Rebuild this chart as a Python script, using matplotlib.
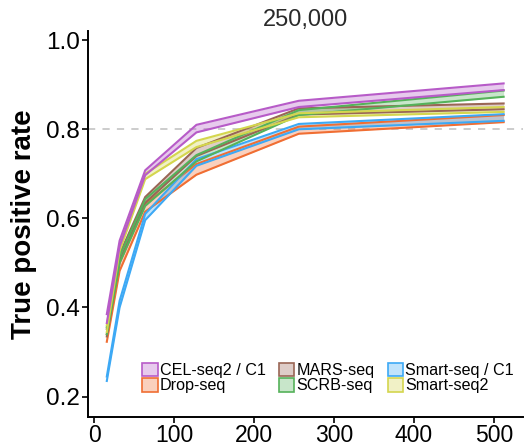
import matplotlib
matplotlib.use("Agg")
import matplotlib.pyplot as plt
from matplotlib.patches import Patch

plt.rcParams['font.family'] = ['Liberation Sans', 'DejaVu Sans']

# sequencing depth (x) and true positive rate ribbons (lower / upper)
depth = [16, 32, 64, 128, 256, 512]

methods = ['CEL-seq2 / C1', 'Drop-seq', 'MARS-seq', 'SCRB-seq', 'Smart-seq / C1', 'Smart-seq2']
colors = ['#B75BC8', '#F06E33', '#9A6655', '#55B25A', '#3DA9F5', '#D4D64E']

cel_lo = [0.365, 0.537, 0.697, 0.793, 0.850, 0.888]
cel_hi = [0.385, 0.550, 0.708, 0.810, 0.864, 0.903]
drop_lo = [0.323, 0.482, 0.615, 0.698, 0.790, 0.816]
drop_hi = [0.340, 0.500, 0.632, 0.722, 0.806, 0.832]
mars_lo = [0.335, 0.505, 0.635, 0.740, 0.833, 0.845]
mars_hi = [0.352, 0.520, 0.648, 0.758, 0.847, 0.858]
scrb_lo = [0.340, 0.500, 0.628, 0.728, 0.832, 0.873]
scrb_hi = [0.356, 0.515, 0.643, 0.742, 0.843, 0.887]
c1_lo = [0.235, 0.400, 0.596, 0.718, 0.800, 0.819]
c1_hi = [0.245, 0.415, 0.610, 0.733, 0.812, 0.834]
ss2_lo = [0.345, 0.527, 0.688, 0.760, 0.827, 0.839]
ss2_hi = [0.360, 0.540, 0.700, 0.774, 0.836, 0.850]

lows = [cel_lo, drop_lo, mars_lo, scrb_lo, c1_lo, ss2_lo]
highs = [cel_hi, drop_hi, mars_hi, scrb_hi, c1_hi, ss2_hi]

fig = plt.figure(figsize=(5.26, 4.47), dpi=100, facecolor='w')
ax = fig.add_axes([0.1673, 0.068, 0.8267, 0.862])

ax.axhline(0.8, color='#C8C8C8', lw=1.3, ls=(0, (4, 4)), zorder=1)

# draw in an order so the top bands sit on top
for i in [1, 4, 2, 3, 5, 0]:
    ax.fill_between(depth, lows[i], highs[i], color=colors[i], alpha=0.32, lw=0, zorder=2)
    ax.plot(depth, lows[i], color=colors[i], lw=1.5, zorder=3)
    ax.plot(depth, highs[i], color=colors[i], lw=1.5, zorder=3)

ax.set_xlim(-7.5, 536)
ax.set_ylim(0.155, 1.02)
ax.set_xticks([0, 100, 200, 300, 400, 500])
ax.set_yticks([0.2, 0.4, 0.6, 0.8, 1.0])
ax.set_yticklabels(['0.2', '0.4', '0.6', '0.8', '1.0'])

for s in ['top', 'right']:
    ax.spines[s].set_visible(False)
for s in ['left', 'bottom']:
    ax.spines[s].set_linewidth(1.4)
ax.tick_params(axis='both', length=4, width=1.2, labelsize=17.5, pad=2, colors='black')
ax.tick_params(axis='x', labelsize=16.5, pad=1)

ax.set_ylabel('True positive rate', fontsize=20, fontweight='bold', labelpad=6)
ax.set_title('250,000', fontsize=17, color='#2A2A2A', pad=0.5)

handles = [Patch(facecolor=matplotlib.colors.to_rgba(c, 0.32), edgecolor=c, lw=1.2) for c in colors]
leg = ax.legend(handles, methods, ncol=3, loc='lower left', bbox_to_anchor=(0.125, 0.06),
                frameon=False, fontsize=11.6, handlelength=0.95, handleheight=0.95,
                handletextpad=0.15, columnspacing=0.8, labelspacing=0.0, borderpad=0,
                borderaxespad=0)

fig.savefig('out.png', dpi=100)
